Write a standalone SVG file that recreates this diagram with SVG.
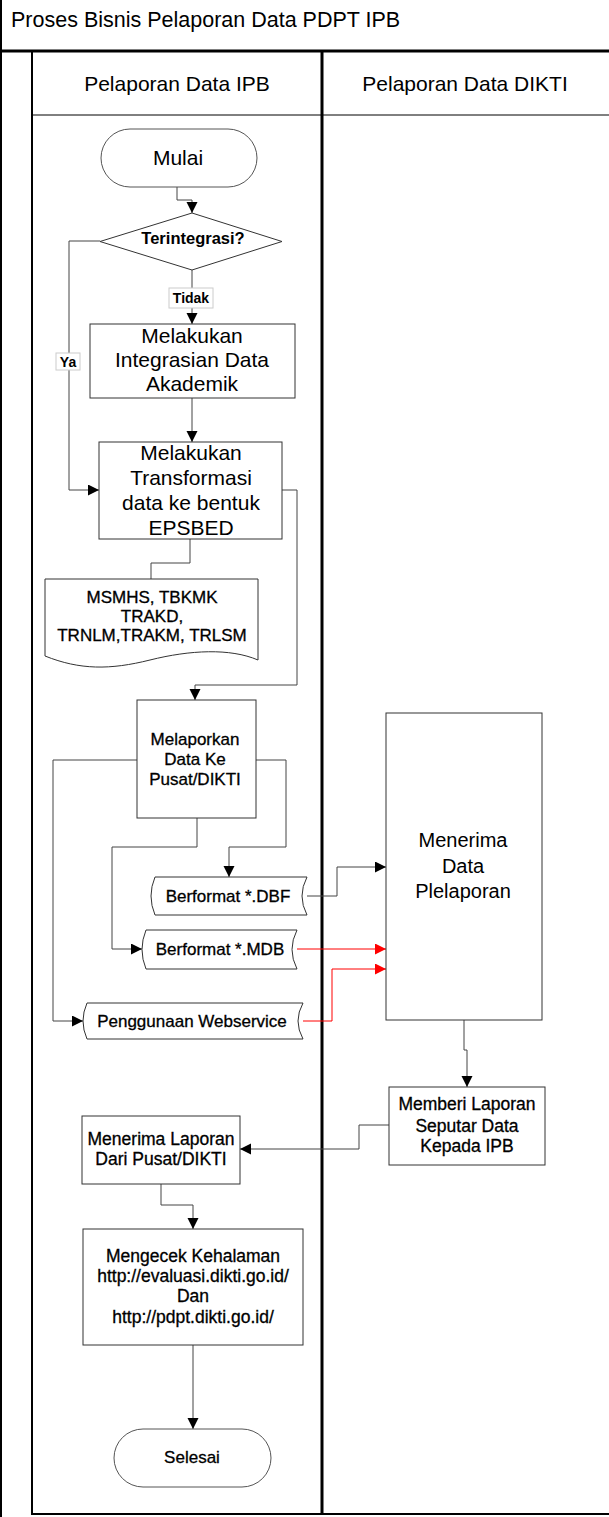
<svg xmlns="http://www.w3.org/2000/svg" width="609" height="1517" viewBox="0 0 609 1517">
<defs>
<marker id="arr" markerUnits="userSpaceOnUse" markerWidth="12" markerHeight="12" refX="11" refY="5.5" orient="auto"><path d="M0,0 L11,5.5 L0,11 Z" fill="#000"/></marker>
<marker id="arrR" markerUnits="userSpaceOnUse" markerWidth="12" markerHeight="12" refX="11" refY="5.5" orient="auto"><path d="M0,0 L11,5.5 L0,11 Z" fill="#f00"/></marker>
<style>
text{font-family:"Liberation Sans",Arial,sans-serif;fill:#000;text-anchor:middle}
.t21{font-size:21px}
.t20{font-size:20px}
.t17{font-size:17px;stroke:#000;stroke-width:0.3}
.t175{font-size:17.5px;stroke:#000;stroke-width:0.3}
.b{font-weight:bold}
.box{fill:#fff;stroke:#333;stroke-width:1}
.term{fill:#fff;stroke:#555;stroke-width:1}
.c{fill:none;stroke:#444;stroke-width:1}
.cr{fill:none;stroke:#f00;stroke-width:1}
.frame{stroke:#000;fill:none}
.lbl{fill:#fff;stroke:#ccc;stroke-width:1}
</style>
</defs>
<rect width="609" height="1517" fill="#fff"/>
<g id="frame">
<line class="frame" x1="1" y1="0" x2="1" y2="1517" stroke-width="2"/>
<line class="frame" x1="0" y1="51" x2="609" y2="51" stroke-width="3"/>
<line class="frame" x1="32" y1="51" x2="32" y2="1515" stroke-width="2"/>
<line class="frame" x1="322" y1="51" x2="322" y2="1515" stroke-width="3"/>
<line class="frame" x1="32" y1="115" x2="609" y2="115" stroke-width="1"/>
<line class="frame" x1="31" y1="1514" x2="609" y2="1514" stroke-width="2"/>
<text x="11" y="27" style="font-size:21.5px;text-anchor:start">Proses Bisnis Pelaporan Data PDPT IPB</text>
<text class="t21" x="177" y="91">Pelaporan Data IPB</text>
<text class="t21" x="465" y="91">Pelaporan Data DIKTI</text>
</g>
<g id="connectors">
<path class="c" d="M177,187 V200 H192 V213" marker-end="url(#arr)"/>
<path class="c" d="M192,270 V324" marker-end="url(#arr)"/>
<path class="c" d="M100,241 H69 V490 H99" marker-end="url(#arr)"/>
<path class="c" d="M192,398 V442" marker-end="url(#arr)"/>
<path class="c" d="M190,539 V563 H151 V579"/>
<path class="c" d="M282,490 H297 V685 H195 V700" marker-end="url(#arr)"/>
<path class="c" d="M137,760 H53 V1021 H83" marker-end="url(#arr)"/>
<path class="c" d="M256,760 H286 V847 H229 V877" marker-end="url(#arr)"/>
<path class="c" d="M197,818 V847 H112 V949 H142" marker-end="url(#arr)"/>
<path class="c" d="M307,896 H337 V867 H386" marker-end="url(#arr)"/>
<path class="cr" d="M297,949 H386" marker-end="url(#arrR)"/>
<path class="cr" d="M303,1021 H332 V969 H386" marker-end="url(#arrR)"/>
<path class="c" d="M464,1020 V1050 H467 V1087" marker-end="url(#arr)"/>
<path class="c" d="M389,1125 H359 V1149 H240" marker-end="url(#arr)"/>
<path class="c" d="M161,1184 V1205 H193 V1229" marker-end="url(#arr)"/>
<path class="c" d="M193,1345 V1429" marker-end="url(#arr)"/>
<rect class="lbl" x="169" y="288" width="44" height="20"/>
<text class="b" x="191" y="303" style="font-size:14px">Tidak</text>
<rect class="lbl" x="56" y="353" width="24" height="17"/>
<text class="b" x="68" y="367" style="font-size:14px">Ya</text>
</g>
<g id="mulai">
<rect class="term" x="101" y="129" width="156" height="58" rx="29"/>
<text class="t21" x="178" y="165">Mulai</text>
</g>
<g id="terintegrasi">
<polygon class="box" points="192,213 282,241.5 192,270 100,241.5"/>
<text class="b" x="193" y="244" style="font-size:16.5px">Terintegrasi?</text>
</g>
<g id="integrasi">
<rect class="box" x="90" y="324" width="205" height="74"/>
<text class="t21" x="192" y="343">Melakukan</text>
<text class="t21" x="192" y="367">Integrasian Data</text>
<text class="t21" x="192" y="391">Akademik</text>
</g>
<g id="transformasi">
<rect class="box" x="99" y="442" width="183" height="97"/>
<text class="t21" x="191" y="460">Melakukan</text>
<text class="t21" x="191" y="485">Transformasi</text>
<text class="t21" x="191" y="510">data ke bentuk</text>
<text class="t21" x="191" y="535">EPSBED</text>
</g>
<g id="dokumen">
<path class="box" d="M45,579 H258 V660 C230,648 190,650 150,660 C110,670 80,670 45,656 Z"/>
<text class="t17" x="152" y="603">MSMHS, TBKMK</text>
<text class="t17" x="152" y="622">TRAKD,</text>
<text class="t17" x="152" y="641">TRNLM,TRAKM, TRLSM</text>
</g>
<g id="melaporkan">
<rect class="box" x="137" y="700" width="119" height="118"/>
<text class="t17" x="195" y="745">Melaporkan</text>
<text class="t17" x="195" y="765">Data Ke</text>
<text class="t17" x="195" y="785">Pusat/DIKTI</text>
</g>
<g id="dbf">
<path class="box" d="M155,877 H307 Q297,896 307,915 H155 Q147,896 155,877 Z"/>
<text class="t17" x="228" y="902">Berformat *.DBF</text>
</g>
<g id="mdb">
<path class="box" d="M146,930 H297 Q287,949.5 297,969 H146 Q138,949.5 146,930 Z"/>
<text class="t17" x="220" y="955">Berformat *.MDB</text>
</g>
<g id="webservice">
<path class="box" d="M87,1003 H303 Q293,1021 303,1039 H87 Q79,1021 87,1003 Z"/>
<text class="t17" x="192" y="1027">Penggunaan Webservice</text>
</g>
<g id="menerima-data">
<rect class="box" x="386" y="713" width="156" height="307"/>
<text class="t20" x="463" y="847">Menerima</text>
<text class="t20" x="463" y="873">Data</text>
<text class="t20" x="463" y="898">Plelaporan</text>
</g>
<g id="memberi">
<rect class="box" x="389" y="1087" width="156" height="78"/>
<text class="t175" x="467" y="1110">Memberi Laporan</text>
<text class="t175" x="467" y="1132">Seputar Data</text>
<text class="t175" x="467" y="1152">Kepada IPB</text>
</g>
<g id="menerima-laporan">
<rect class="box" x="82" y="1116" width="158" height="68"/>
<text class="t175" x="161" y="1145">Menerima Laporan</text>
<text class="t175" x="161" y="1165">Dari Pusat/DIKTI</text>
</g>
<g id="mengecek">
<rect class="box" x="83" y="1229" width="220" height="116"/>
<text class="t175" x="193" y="1262">Mengecek Kehalaman</text>
<text class="t175" x="193" y="1282">http://evaluasi.dikti.go.id/</text>
<text class="t175" x="193" y="1302">Dan</text>
<text class="t175" x="193" y="1323">http://pdpt.dikti.go.id/</text>
</g>
<g id="selesai">
<rect class="term" x="114" y="1429" width="157" height="58" rx="29"/>
<text class="t17" x="192" y="1463">Selesai</text>
</g>
</svg>
